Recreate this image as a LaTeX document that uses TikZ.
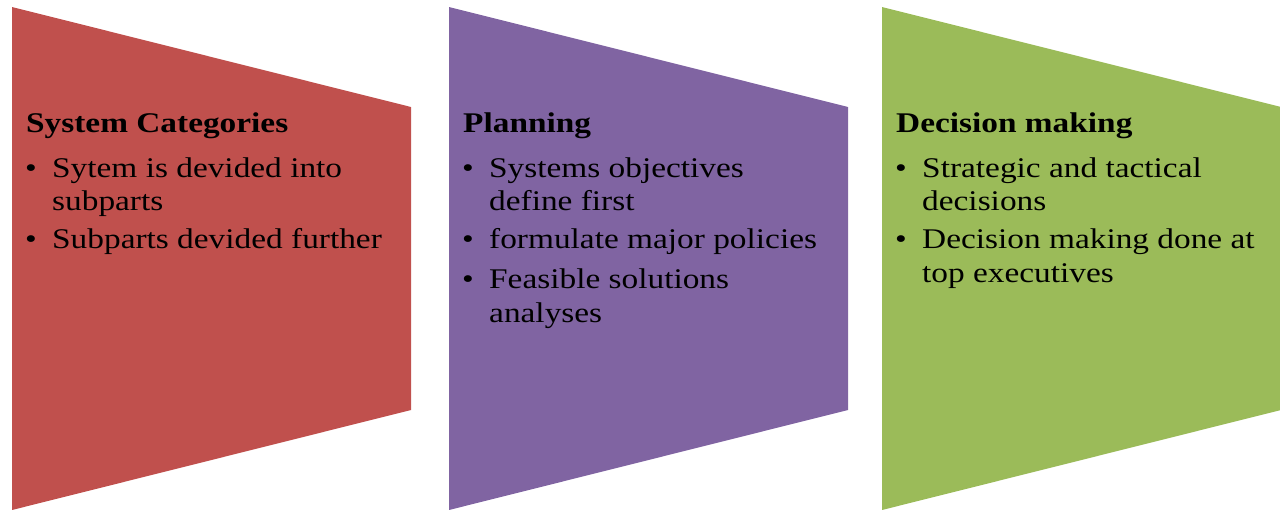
\documentclass[tikz,border=0pt]{standalone}
\usepackage{fontspec}
\setmainfont{Liberation Serif}[FakeStretch=1.17]
\definecolor{cred}{HTML}{C0504D}
\definecolor{cpurple}{HTML}{8064A2}
\definecolor{cgreen}{HTML}{9BBB59}
\begin{document}
\begin{tikzpicture}[x=1pt,y=-1pt,
  ttl/.style={anchor=base west,inner sep=0pt,font=\fontsize{28.5}{34}\selectfont\bfseries},
  txt/.style={anchor=base west,inner sep=0pt,font=\fontsize{28.5}{34}\selectfont},
  bul/.style={anchor=base,inner sep=0pt,font=\fontsize{28.5}{34}\selectfont}]
\useasboundingbox (0,0) rectangle (1280,509);
% panels
\fill[cred]    (12,7)  -- (411,107) -- (411,410) -- (12,510) -- cycle;
\fill[cpurple] (449,7) -- (848,107) -- (848,410) -- (449,510) -- cycle;
\fill[cgreen]  (882,7) -- (1281,107) -- (1281,410) -- (882,510) -- cycle;
% red
\node[ttl] (t1) at (26,132) {System Categories};
\node[bul] (b11) at (31,177) {•};
\node[txt] (l11) at (52,177) {Sytem is devided into};
\node[txt] (l12) at (52,210) {subparts};
\node[bul] (b12) at (31,248) {•};
\node[txt] (l13) at (52,248) {Subparts devided further};
% purple
\node[ttl] (t2) at (463,132) {Planning};
\node[bul] (b21) at (468,177) {•};
\node[txt] (l21) at (489,177) {Systems objectives};
\node[txt] (l22) at (489,210) {define first};
\node[bul] (b22) at (468,248) {•};
\node[txt] (l23) at (489,248) {formulate major policies};
\node[bul] (b23) at (468,288) {•};
\node[txt] (l24) at (489,288) {Feasible solutions};
\node[txt] (l25) at (489,322) {analyses};
% green
\node[ttl] (t3) at (896,132) {Decision making};
\node[bul] (b31) at (901,177) {•};
\node[txt] (l31) at (922,177) {Strategic and tactical};
\node[txt] (l32) at (922,210) {decisions};
\node[bul] (b32) at (901,248) {•};
\node[txt] (l33) at (922,248) {Decision making done at};
\node[txt] (l34) at (922,282) {top executives};
\end{tikzpicture}
\end{document}
